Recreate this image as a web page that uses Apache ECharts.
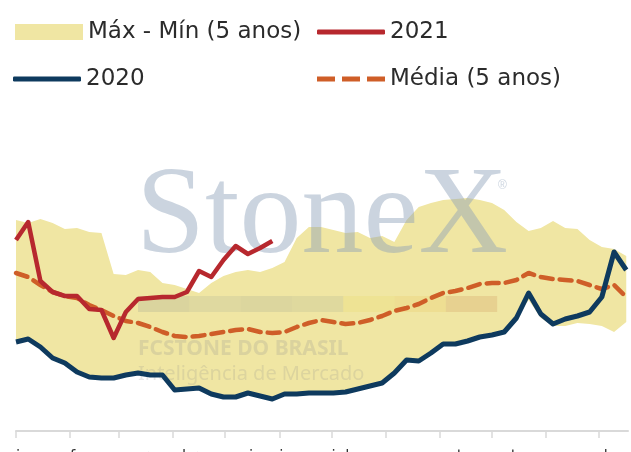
<!DOCTYPE html>
<html>
<head>
<meta charset="utf-8">
<script src="https://cdn.jsdelivr.net/npm/echarts@6/dist/echarts.min.js"></script>
<style>
  html, body { margin: 0; padding: 0; background: #fff; }
  #chart { width: 631px; height: 452px; }
</style>
</head>
<body>
<div id="chart"></div>
<script>
// dia do ano de cada semana
var days = [0, 7, 14, 21, 28, 35, 42, 49, 56, 63, 70, 77, 84, 91, 98, 105, 112, 119, 126, 133,
  140, 147, 154, 161, 168, 175, 182, 189, 196, 203, 210, 217, 224, 231, 238, 245, 252, 259, 266, 273,
  280, 287, 294, 301, 308, 315, 322, 329, 336, 343, 350]

var monthStarts = [0, 31, 59, 90, 120, 151, 181, 212, 243, 273, 304, 334]
var monthLabels = ['jan', 'fev', 'mar', 'abr', 'mai', 'jun', 'jul', 'ago', 'set', 'out', 'nov', 'dez']

var max5 = [84.4, 83.2, 84.8, 83.2, 80.8, 81.2, 79.6, 79.2, 62.8, 62.4, 64.4, 63.6, 59.2, 58.4, 56.8, 55.2, 59.2, 62.0, 63.6, 64.4,
  63.6, 65.2, 67.6, 77.2, 81.6, 81.6, 80.4, 79.2, 79.6, 77.2, 78.0, 75.6, 84.4, 89.6, 91.2, 92.4, 92.8, 93.2, 92.4, 91.2,
  88.4, 83.6, 80.0, 81.2, 84.0, 81.2, 80.8, 76.4, 73.6, 72.8, 70.0]

var min5 = [35.6, 36.8, 33.6, 29.2, 27.2, 23.6, 21.6, 21.2, 21.2, 22.4, 23.2, 22.4, 22.4, 16.4, 16.8, 17.2, 14.8, 13.6, 13.6, 15.2,
  14.0, 12.8, 14.8, 14.8, 15.2, 15.2, 15.2, 15.6, 16.8, 18.0, 19.2, 23.2, 28.4, 28.0, 31.2, 34.8, 34.8, 36.0, 37.6, 38.4,
  39.6, 45.2, 52.4, 45.2, 42.0, 42.0, 43.2, 42.8, 42.0, 39.6, 43.6]

var media5 = [63.2, 61.6, 58.4, 55.6, 54.0, 53.2, 50.4, 48.4, 46.0, 44.0, 43.2, 41.6, 39.6, 38.0, 37.6, 38.0, 38.8, 39.6, 40.4, 40.8,
  39.6, 39.2, 39.6, 41.6, 43.2, 44.4, 43.6, 42.8, 43.2, 44.4, 46.0, 48.0, 49.2, 50.8, 53.2, 55.2, 56.0, 57.2, 58.8, 59.2,
  59.2, 60.4, 63.2, 61.6, 60.8, 60.4, 60.0, 58.4, 56.8, 58.4, 53.6]

var y2020 = [35.6, 36.8, 33.6, 29.2, 27.2, 23.6, 21.6, 21.2, 21.2, 22.4, 23.2, 22.4, 22.4, 16.4, 16.8, 17.2, 14.8, 13.6, 13.6, 15.2,
  14.0, 12.8, 14.8, 14.8, 15.2, 15.2, 15.2, 15.6, 16.8, 18.0, 19.2, 23.2, 28.4, 28.0, 31.2, 34.8, 34.8, 36.0, 37.6, 38.4,
  39.6, 45.2, 55.2, 46.8, 42.8, 44.8, 46.0, 47.6, 53.6, 71.6, 64.4]

var y2021 = [76.4, 83.6, 60.0, 55.6, 54.0, 54.0, 48.8, 48.4, 37.2, 47.6, 52.8, 53.2, 53.6, 53.6, 55.6, 64.0, 61.6, 68.4, 74.0, 70.8,
  73.2, 76.0]

function pairs (vals) {
  return vals.map(function (v, i) { return [days[i], v] })
}

var chart = echarts.init(document.getElementById('chart'))
var fontName = '"DejaVu Sans", sans-serif'
var logoBars = ['rgba(140,150,140,0.22)', 'rgba(150,160,150,0.18)', 'rgba(140,150,140,0.2)', 'rgba(150,160,140,0.18)',
  'rgba(235,220,120,0.35)', 'rgba(235,205,110,0.3)', 'rgba(215,170,110,0.35)']

// marca d'agua
var graphics = [
  { type: 'text', x: 136, y: 157, z: 5, silent: true,
    style: { text: 'StoneX', font: '124px "Liberation Serif"', fill: 'rgba(140,160,185,0.45)' } },
  { type: 'text', x: 498, y: 180, z: 5, silent: true,
    style: { text: '®', font: '12px "Liberation Sans"', fill: 'rgba(140,160,185,0.45)' } },
  { type: 'text', x: 138, y: 339, z: 5, silent: true,
    style: { text: 'FCSTONE DO BRASIL', font: 'bold 21px "Noto Sans"', fill: 'rgba(140,140,140,0.22)' } },
  { type: 'text', x: 138, y: 364, z: 5, silent: true,
    style: { text: 'Inteligência de Mercado', font: '20px "Noto Sans"', fill: 'rgba(140,140,140,0.2)' } }
]
logoBars.forEach(function (c, i) {
  graphics.push({ type: 'rect', z: 5, silent: true, shape: { x: 138 + i * 51.3, y: 296, width: 51.3, height: 16 }, style: { fill: c } })
})

function legendAt (left, top, name, icon, color, h) {
  return {
    left: left, top: top, itemWidth: 68, itemHeight: h, itemGap: 0,
    textStyle: { fontFamily: fontName, fontSize: 23, color: '#2b2b2b', lineHeight: 26 },
    data: [{ name: name, icon: icon, itemStyle: { color: color } }]
  }
}

var dashIcon = 'path://M0,0h18v5h-18z M25,0h18v5h-18z M50,0h18v5h-18z'

chart.setOption({
  animation: false,
  grid: { left: 16, right: 3, top: 181, bottom: 21, outerBoundsMode: 'none' },
  legend: [
    legendAt(10, 14, 'Máx - Mín (5 anos)', 'rect', '#F0E6A3', 16),
    legendAt(312, 14, '2021', 'roundRect', '#B7282E', 5),
    legendAt(8, 61, '2020', 'roundRect', '#0E3A5E', 5),
    legendAt(312, 61, 'Média (5 anos)', dashIcon, '#CF5E28', 5)
  ],
  graphic: graphics,
  xAxis: {
    type: 'value', min: 0, max: 351,
    splitLine: { show: false },
    axisLine: { show: true, lineStyle: { color: '#d9d9d9', width: 2 } },
    axisTick: { show: true, length: 7, lineStyle: { color: '#d9d9d9', width: 1.5 }, customValues: monthStarts },
    axisLabel: {
      customValues: monthStarts, margin: 19, color: '#333', fontFamily: fontName, fontSize: 15, align: 'left',
      formatter: function (v) { return monthLabels[monthStarts.indexOf(v)] }
    }
  },
  yAxis: { type: 'value', min: 0, max: 100, show: false },
  series: [
    {
      name: 'Máx - Mín (5 anos)', type: 'custom', data: pairs(max5), z: 1, silent: true,
      itemStyle: { color: '#F0E6A3' },
      encode: { x: 0, y: 1 },
      renderItem: function (params, api) {
        if (params.dataIndex !== 0) return
        var pts = []
        for (var i = 0; i < days.length; i++) pts.push(api.coord([days[i], max5[i]]))
        for (var j = days.length - 1; j >= 0; j--) pts.push(api.coord([days[j], min5[j]]))
        return { type: 'polygon', shape: { points: pts }, style: { fill: '#F0E6A3' } }
      }
    },
    {
      name: 'Média (5 anos)', type: 'line', data: pairs(media5), symbol: 'none', z: 10,
      itemStyle: { color: '#CF5E28' },
      lineStyle: { color: '#CF5E28', width: 4.5, type: [12, 7], cap: 'round' }
    },
    {
      name: '2020', type: 'line', data: pairs(y2020), symbol: 'none', z: 11,
      itemStyle: { color: '#0E3A5E' },
      lineStyle: { color: '#0E3A5E', width: 5, join: 'round' }
    },
    {
      name: '2021', type: 'line', data: pairs(y2021), symbol: 'none', z: 12,
      itemStyle: { color: '#B7282E' },
      lineStyle: { color: '#B7282E', width: 4.5, join: 'round' }
    }
  ]
})
</script>
</body>
</html>
